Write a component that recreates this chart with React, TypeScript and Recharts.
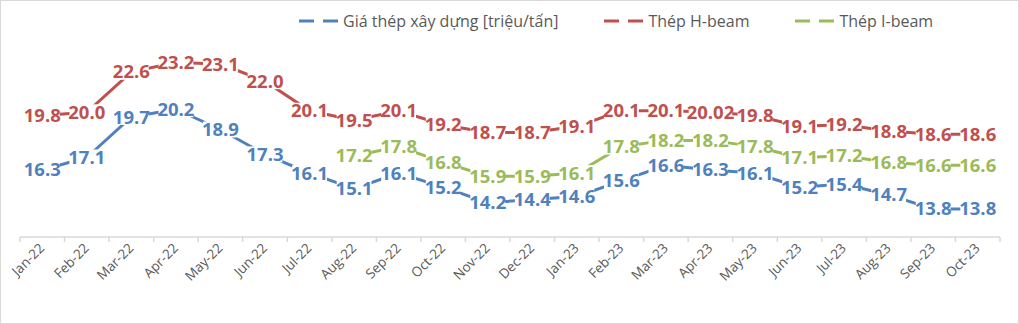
import { LineChart, Line, XAxis, YAxis, LabelList } from "recharts";

const months = [
  "Jan-22", "Feb-22", "Mar-22", "Apr-22", "May-22", "Jun-22", "Jul-22", "Aug-22",
  "Sep-22", "Oct-22", "Nov-22", "Dec-22", "Jan-23", "Feb-23", "Mar-23", "Apr-23",
  "May-23", "Jun-23", "Jul-23", "Aug-23", "Sep-23", "Oct-23",
];

// giá thép xây dựng [triệu/tấn]
const giaThep = [
  16.3, 17.1, 19.7, 20.2, 18.9, 17.3, 16.1, 15.1, 16.1, 15.2, 14.2,
  14.4, 14.6, 15.6, 16.6, 16.3, 16.1, 15.2, 15.4, 14.7, 13.8, 13.8,
];

const hBeam = [
  19.8, 20.0, 22.6, 23.2, 23.1, 22.0, 20.1, 19.5, 20.1, 19.2, 18.7,
  18.7, 19.1, 20.1, 20.1, 20.02, 19.8, 19.1, 19.2, 18.8, 18.6, 18.6,
];

// I-beam data only starts in Aug-22
const iBeam = [
  null, null, null, null, null, null, null, 17.2, 17.8, 16.8, 15.9,
  15.9, 16.1, 17.8, 18.2, 18.2, 17.8, 17.1, 17.2, 16.8, 16.6, 16.6,
];

const SERIES = [
  { key: "gia", name: "Giá thép xây dựng [triệu/tấn]", color: "#4F81BD" },
  { key: "h", name: "Thép H-beam", color: "#C0504D" },
  { key: "i", name: "Thép I-beam", color: "#9BBB59" },
];

const data = months.map((m, idx) => ({
  month: m,
  gia: giaThep[idx],
  h: hBeam[idx],
  i: iBeam[idx],
}));

const W = 1019;
const H = 324;
const LEFT = 20;
const RIGHT = 19;
const BAND = (W - LEFT - RIGHT) / months.length;
const FONT = "'Open Sans', 'DejaVu Sans', sans-serif";
const DASH = "15 9";

const fmt = (v: number) =>
  Math.abs(Math.round(v * 10) - v * 10) < 1e-6 ? v.toFixed(1) : v.toFixed(2);

// white box behind each label hides the line under the text, like the original
const makeLabel = (color: string) => (props: any) => {
  const { x, y, value } = props;
  if (value == null) return null;
  const txt = fmt(value);
  const w = txt.length * 8.7;
  return (
    <g>
      <rect x={x - w / 2} y={y - 8} width={w} height={16} fill="#fff" />
      <text
        x={x}
        y={y}
        dy={6.5}
        textAnchor="middle"
        fill={color}
        style={{ fontFamily: FONT, fontWeight: 700, fontSize: 18.5 }}
      >
        {txt}
      </text>
    </g>
  );
};

const MonthTick = (props: any) => {
  const { x, y, payload, index } = props;
  const last = index === months.length - 1;
  return (
    <g>
      <line x1={x - BAND / 2} y1={y} x2={x - BAND / 2} y2={y + 5} stroke="#D9D9D9" strokeWidth={1.5} />
      {last && (
        <line x1={x + BAND / 2} y1={y} x2={x + BAND / 2} y2={y + 5} stroke="#D9D9D9" strokeWidth={1.5} />
      )}
      <text
        transform={`translate(${x + 3},${y + 12}) rotate(-45)`}
        textAnchor="end"
        fill="#595959"
        style={{ fontFamily: FONT, fontSize: 13.5 }}
      >
        {payload.value}
      </text>
    </g>
  );
};

function ChartLegend() {
  return (
    <div
      style={{
        position: "absolute",
        top: 9,
        left: 298,
        display: "flex",
        gap: 46,
        fontFamily: FONT,
        fontSize: 16,
        color: "#595959",
        whiteSpace: "nowrap",
      }}
    >
      {SERIES.map((s) => (
        <div key={s.key} style={{ display: "flex", alignItems: "center", gap: 4 }}>
          <svg width={40} height={6}>
            <line x1={0} y1={3} x2={40} y2={3} stroke={s.color} strokeWidth={3} strokeDasharray={DASH} />
          </svg>
          <span>{s.name}</span>
        </div>
      ))}
    </div>
  );
}

export default function App() {
  return (
    <div
      style={{
        position: "absolute",
        left: 0,
        top: 0,
        width: W - 2,
        height: H - 2,
        border: "1px solid #D9D9D9",
        background: "#fff",
      }}
    >
      <ChartLegend />
      <LineChart
        width={W - 2}
        height={H - 2}
        data={data}
        margin={{ top: 49, right: RIGHT - 1, left: LEFT - 1, bottom: 0 }}
      >
        <XAxis
          dataKey="month"
          interval={0}
          tickLine={false}
          tickSize={0}
          tickMargin={0}
          height={86}
          padding={{ left: BAND / 2, right: BAND / 2 }}
          axisLine={{ stroke: "#D9D9D9", strokeWidth: 1.5 }}
          tick={<MonthTick />}
        />
        <YAxis hide domain={[12, 24]} />
        {SERIES.map((s) => (
          <Line
            key={s.key}
            dataKey={s.key}
            name={s.name}
            stroke={s.color}
            strokeWidth={3}
            dot={false}
            isAnimationActive={false}
          >
            <LabelList dataKey={s.key} content={makeLabel(s.color)} />
          </Line>
        ))}
      </LineChart>
    </div>
  );
}
